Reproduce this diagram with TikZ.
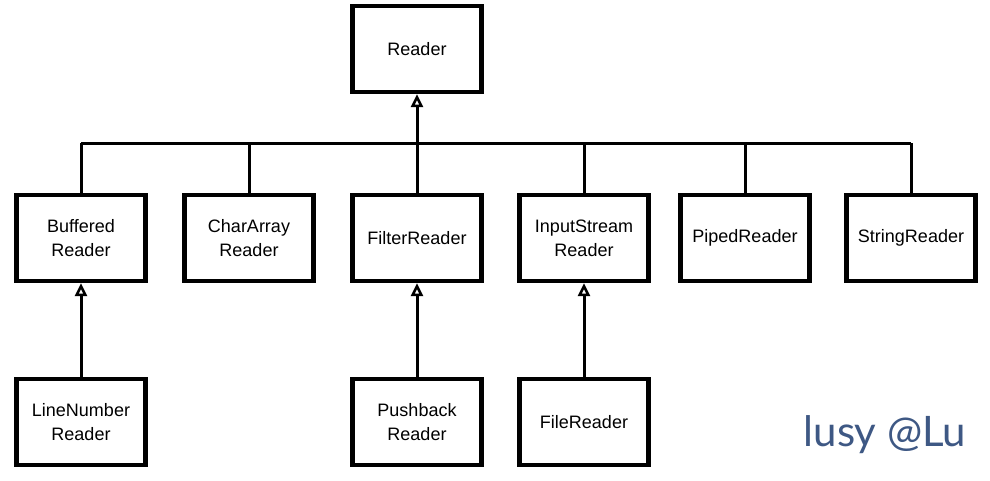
\documentclass[tikz,border=0pt]{standalone}
\usepackage{fontspec}
\setmainfont{Liberation Sans}
\newfontfamily\markfont{Lato}
\usetikzlibrary{arrows.meta}
\definecolor{markblue}{RGB}{62,88,132}
\tikzset{
  classbox/.style={draw, line width=4.2pt, minimum width=129pt, minimum height=86pt,
    align=center, font=\fontsize{18}{24}\selectfont},
  inherit/.style={line width=3pt, -{Triangle[open,length=13pt,width=12pt,line width=2.6pt]}}
}
\begin{document}
\begin{tikzpicture}[x=1pt,y=-1pt]
    \useasboundingbox[fill=white] (0,0) rectangle (990,480);

    \node[classbox] (reader) at (417,49) {Reader};

    \node[classbox] (buffered) at (81,238) {Buffered\\Reader};
    \node[classbox] (chararray) at (249,238) {CharArray\\Reader};
    \node[classbox] (filter) at (417,238) {FilterReader};
    \node[classbox] (inputstream) at (584,238) {InputStream\\Reader};
    \node[classbox] (piped) at (745,238) {PipedReader};
    \node[classbox] (string) at (911,238) {StringReader};

    \node[classbox] (linenumber) at (81,422) {LineNumber\\Reader};
    \node[classbox] (pushback) at (417,422) {Pushback\\Reader};
    \node[classbox] (file) at (584,422) {FileReader};

    % bus to the base class
    \coordinate (busleft) at (81,143);
    \coordinate (busright) at (911,143);
    \draw[line width=3pt] (busleft) -- (busright);
    \foreach \n in {buffered,chararray,inputstream,piped,string}
        \draw[line width=3pt] (\n.north) -- (\n.north |- busleft);
    \draw[inherit] (filter.north) -- (reader.south);

    % second level
    \draw[inherit] (linenumber) -- (buffered);
    \draw[inherit] (pushback) -- (filter);
    \draw[inherit] (file) -- (inputstream);

    \node[text=markblue, font=\markfont\fontsize{42}{46}\selectfont] (mark) at (885,435) {lusy @Lu};
\end{tikzpicture}
\end{document}
